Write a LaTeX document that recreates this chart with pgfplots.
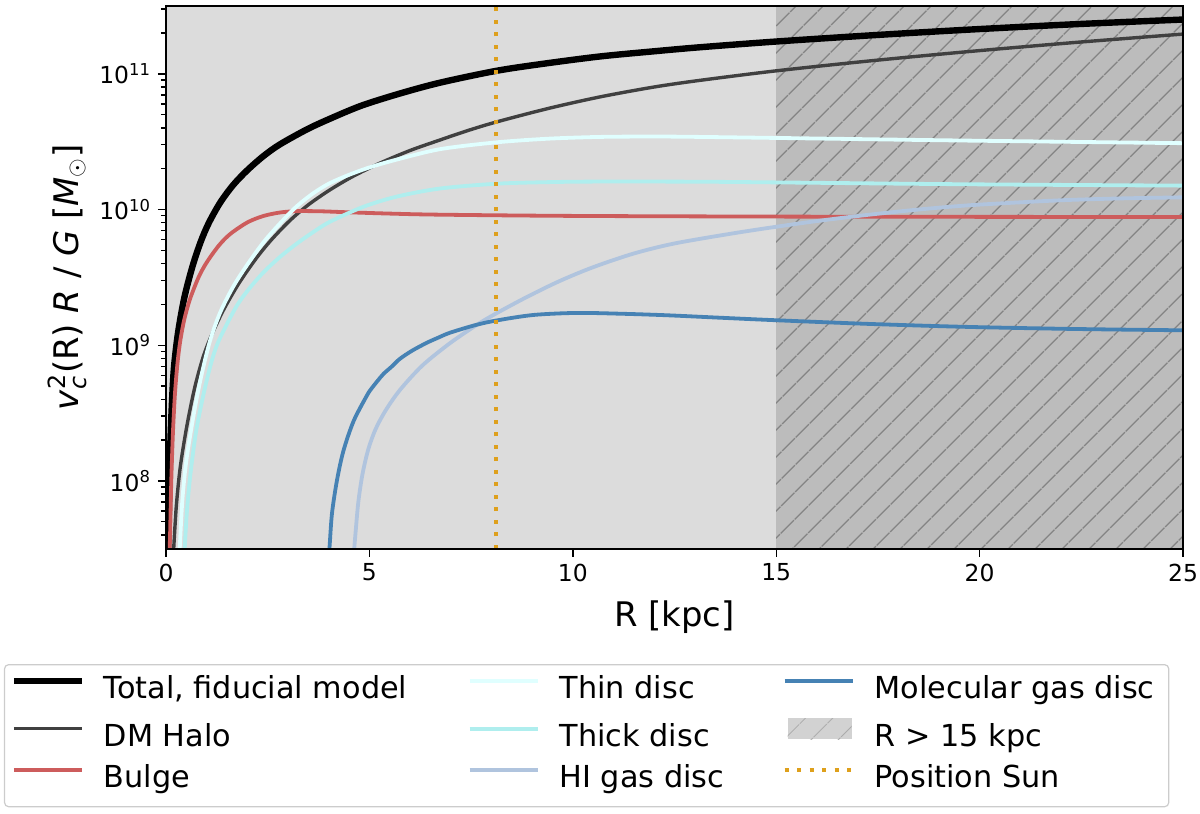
\documentclass[border=0pt]{standalone}
\usepackage{pgfplots}
\pgfplotsset{compat=1.18}
\usepackage{amsmath}
\usepackage{fontspec}
\setmainfont{DejaVu Sans}
\usetikzlibrary{patterns.meta}

\definecolor{bglight}{RGB}{220,220,220}
\definecolor{regiongray}{RGB}{188,188,188}
\definecolor{patchgray}{RGB}{210,210,210}
\definecolor{hatchgray}{RGB}{132,132,132}
\definecolor{dmgray}{RGB}{64,64,64}
\definecolor{bulgec}{RGB}{205,92,92}
\definecolor{thinc}{RGB}{224,255,255}
\definecolor{thickc}{RGB}{175,238,238}
\definecolor{hic}{RGB}{176,196,222}
\definecolor{molc}{RGB}{70,130,180}
\definecolor{sunc}{RGB}{222,160,28}

\begin{document}
\begin{tikzpicture}
\useasboundingbox (-83bp,-132.15bp) rectangle (517bp,274.4bp);
\begin{axis}[
  scale only axis, width=508.5bp, height=271.4bp,
  xmin=0, xmax=25,
  ymode=log, ymin=3.1623e7, ymax=3.1623e11,
  xtick={0,5,10,15,20,25},
  xticklabels={0,5,10,15,20,25},
  ytick={1e8,1e9,1e10,1e11},
  yticklabels={10\textsuperscript{8},10\textsuperscript{9},10\textsuperscript{10},10\textsuperscript{11}},
  minor ytick={4e7,5e7,6e7,7e7,8e7,9e7,2e8,3e8,4e8,5e8,6e8,7e8,8e8,9e8,2e9,3e9,4e9,5e9,6e9,7e9,8e9,9e9,2e10,3e10,4e10,5e10,6e10,7e10,8e10,9e10,2e11,3e11},
  tick align=outside, xtick pos=bottom, ytick pos=left,
  major tick length=4bp, minor tick length=2.5bp,
  every tick/.style={black, line width=0.7bp},
  axis line style={line width=0.75bp},
  ticklabel style={font=\fontsize{11.75}{14}\selectfont},
  xlabel={R [kpc]},
  ylabel={\textit{v}$_{\text{\itshape c}}^{\text{2}}$(R) \textit{R} / \textit{G} [\textit{M}$_{\odot}$]},
  label style={font=\fontsize{17}{20}\selectfont},
  xlabel style={at={(axis description cs:0.5,-0.1433)}, anchor=base},
  ylabel style={at={(axis description cs:-0.0861,0.5)}, anchor=base},
  axis background/.style={fill=bglight},
  axis on top,
  legend columns=3, transpose legend,
  legend cell align=left,
  legend image code/.code={
    \draw[#1, sharp corners] (0bp,5bp) -- (34bp,5bp);
    \path[draw=none, fill=none] (0bp,0bp) -- (45bp,0bp);},
  legend style={at={(axis description cs:-0.1593,-0.2124)}, anchor=north west,
    draw=black!20, line width=0.6bp, rounded corners=2bp, fill=white,
    inner xsep=3bp, inner ysep=6bp, row sep=6.25bp, column sep=0pt,
    font=\fontsize{15.2}{18}\selectfont,
    nodes={inner sep=0pt, text height=11bp, text depth=3.5bp}},
]
% legend entries (column-wise order)
\addlegendimage{black, line width=3.2bp}
\addlegendentry{\makebox[182bp][l]{Total, fiducial model}}
\addlegendimage{dmgray, line width=1.7bp}
\addlegendentry{\makebox[182bp][l]{DM Halo}}
\addlegendimage{bulgec, line width=1.9bp}
\addlegendentry{\makebox[182bp][l]{Bulge}}
\addlegendimage{thinc, line width=1.9bp}
\addlegendentry{\makebox[111.5bp][l]{Thin disc}}
\addlegendimage{thickc, line width=1.9bp}
\addlegendentry{\makebox[111.5bp][l]{Thick disc}}
\addlegendimage{hic, line width=1.9bp}
\addlegendentry{\makebox[111.5bp][l]{HI gas disc}}
\addlegendimage{molc, line width=1.9bp}
\addlegendentry{\makebox[144bp][l]{Molecular gas disc}}
\addlegendimage{legend image code/.code={
    \fill[patchgray, draw=none, sharp corners] (1.5bp,-0.25bp) rectangle (33.5bp,10.25bp);
    \fill[draw=none, sharp corners, pattern={Lines[angle=45,distance=10bp,line width=0.6bp]}, pattern color=hatchgray!70!white] (1.5bp,-0.25bp) rectangle (33.5bp,10.25bp);
    \path[draw=none, fill=none] (0bp,0bp) -- (45bp,0bp);}}
\addlegendentry{\makebox[144bp][l]{R > 15 kpc}}
\addlegendimage{sunc, line width=2bp, dash pattern=on 2bp off 4.25bp}
\addlegendentry{\makebox[144bp][l]{Position Sun}}

% R > 15 kpc region
\addplot[draw=none, fill=regiongray, forget plot] coordinates {(15,1e7) (25,1e7) (25,1e12) (15,1e12)} -- cycle;
\addplot[draw=none, pattern={Lines[angle=45,distance=10bp,line width=0.7bp]}, pattern color=hatchgray, forget plot]
  coordinates {(15,1e7) (25,1e7) (25,1e12) (15,1e12)} -- cycle;

% Total, fiducial model
\addplot[black, line width=3.2bp, smooth, forget plot] coordinates {
(0.05,2.82e7) (0.10,1.585e8) (0.15,3.98e8) (0.20,7.08e8) (0.30,1.259e9) (0.45,2.239e9)
(0.65,3.80e9) (0.85,5.75e9) (1.05,7.94e9) (1.33,1.122e10) (1.65,1.514e10) (2.00,1.950e10)
(2.40,2.483e10) (2.80,3.020e10) (3.46,3.890e10) (4.00,4.624e10) (4.80,5.821e10) (5.75,7.161e10)
(6.74,8.610e10) (8.12,1.052e11) (9.30,1.189e11) (10.67,1.343e11) (12.0,1.466e11) (13.13,1.570e11)
(15.0,1.730e11) (17.3,1.919e11) (19.69,2.113e11) (22.3,2.317e11) (25.0,2.512e11)};

% DM Halo
\addplot[dmgray, line width=1.7bp, smooth, forget plot] coordinates {
(0.18,2.82e7) (0.25,6.31e7) (0.35,1.259e8) (0.51,2.512e8) (0.70,4.786e8) (0.90,7.943e8)
(1.10,1.148e9) (1.41,1.811e9) (1.80,2.884e9) (2.23,4.416e9) (2.60,6.026e9) (3.05,8.318e9)
(3.50,1.084e10) (4.03,1.396e10) (4.60,1.758e10) (5.26,2.198e10) (6.00,2.723e10) (6.74,3.258e10)
(7.40,3.802e10) (8.12,4.416e10) (9.40,5.559e10) (10.67,6.761e10) (12.0,7.998e10) (13.13,8.954e10)
(15.0,1.052e11) (17.3,1.245e11) (19.69,1.455e11) (22.3,1.698e11) (25.0,1.963e11)};

% Bulge
\addplot[bulgec, line width=1.9bp, smooth, forget plot] coordinates {
(0.08,2.51e7) (0.10,3.98e7) (0.13,1.00e8) (0.17,2.24e8) (0.22,4.37e8) (0.28,7.24e8)
(0.35,1.072e9) (0.45,1.549e9) (0.59,2.188e9) (0.80,3.162e9) (1.00,4.074e9) (1.30,5.433e9)
(1.58,6.607e9) (2.00,8.035e9) (2.39,8.954e9) (2.80,9.506e9) (3.22,9.727e9) (3.80,9.705e9)
(4.45,9.550e9) (5.50,9.333e9) (6.74,9.162e9) (10.0,8.974e9) (15.0,8.872e9) (20.0,8.831e9) (25.0,8.810e9)};

% Thin disc
\addplot[thinc, line width=1.9bp, smooth, forget plot] coordinates {
(0.33,2.82e7) (0.40,7.08e7) (0.50,1.413e8) (0.67,2.951e8) (0.85,5.623e8) (1.08,1.072e9)
(1.33,1.738e9) (1.65,2.692e9) (1.99,3.890e9) (2.40,5.754e9) (2.81,7.943e9) (3.20,1.047e10)
(3.62,1.318e10) (4.00,1.549e10) (4.45,1.778e10) (5.00,2.042e10) (5.67,2.333e10) (6.74,2.786e10)
(8.12,3.126e10) (9.40,3.327e10) (10.67,3.428e10) (12.0,3.451e10) (13.13,3.428e10) (15.59,3.350e10)
(19.69,3.221e10) (25.0,3.083e10)};

% Thick disc
\addplot[thickc, line width=1.9bp, smooth, forget plot] coordinates {
(0.45,2.82e7) (0.52,6.31e7) (0.62,1.259e8) (0.76,2.512e8) (1.00,5.495e8) (1.25,1.000e9)
(1.70,1.862e9) (2.00,2.512e9) (2.39,3.428e9) (2.80,4.467e9) (3.22,5.623e9) (3.60,6.761e9)
(4.03,8.128e9) (4.85,1.047e10) (5.67,1.245e10) (6.74,1.429e10) (8.12,1.549e10) (9.40,1.592e10)
(10.67,1.607e10) (13.13,1.603e10) (15.59,1.578e10) (19.69,1.535e10) (25.0,1.500e10)};

% HI gas disc
\addplot[hic, line width=1.9bp, smooth, forget plot] coordinates {
(4.60,2.51e7) (4.66,4.17e7) (4.73,7.08e7) (4.83,1.122e8) (4.97,1.698e8) (5.15,2.399e8)
(5.40,3.311e8) (5.75,4.677e8) (6.30,7.079e8) (6.98,1.035e9) (7.64,1.413e9) (8.12,1.718e9)
(8.90,2.291e9) (9.69,2.985e9) (10.50,3.758e9) (11.49,4.732e9) (12.50,5.623e9) (13.95,6.683e9)
(15.0,7.464e9) (16.0,8.222e9) (17.23,9.120e9) (18.5,1.000e10) (19.69,1.072e10) (21.0,1.130e10)
(22.15,1.175e10) (23.5,1.208e10) (25.0,1.230e10)};

% Molecular gas disc
\addplot[molc, line width=1.9bp, smooth, forget plot] coordinates {
(3.99,2.51e7) (4.02,3.24e7) (4.08,5.75e7) (4.20,1.000e8) (4.36,1.660e8) (4.61,2.754e8)
(4.94,4.266e8) (5.05,4.786e8) (5.20,5.458e8) (5.35,6.166e8) (5.55,6.966e8) (5.75,7.943e8)
(6.05,9.120e8) (6.41,1.042e9) (6.70,1.140e9) (6.98,1.236e9) (7.60,1.406e9) (8.12,1.521e9)
(9.03,1.671e9) (10.1,1.730e9) (11.2,1.706e9) (12.31,1.663e9) (13.6,1.596e9)
(15.0,1.528e9) (17.3,1.435e9) (19.69,1.365e9) (22.3,1.318e9) (25.0,1.288e9)};

% Position Sun
\addplot[sunc, line width=2bp, dash pattern=on 2bp off 4.25bp, forget plot] coordinates {(8.122,3.1623e7) (8.122,3.1623e11)};
\end{axis}
\end{tikzpicture}
\end{document}
